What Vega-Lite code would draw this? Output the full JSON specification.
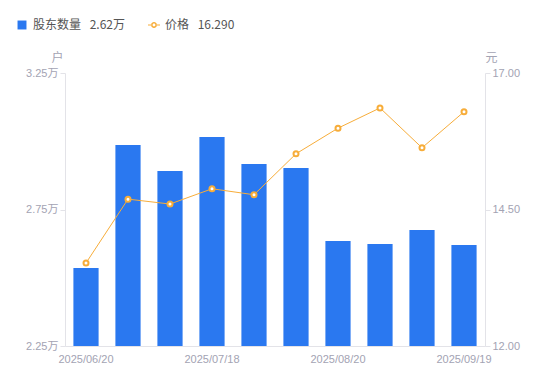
{
  "$schema": "https://vega.github.io/schema/vega-lite/v6.json",
  "width": 420,
  "height": 273,
  "autosize": {"type": "none"},
  "padding": {"left": 65, "top": 73, "right": 65, "bottom": 35},
  "background": "white",
  "config": {
    "view": {"stroke": null},
    "font": "Liberation Sans, Noto Sans CJK SC, sans-serif",
    "axis": {
      "labelFont": "Liberation Sans, Noto Sans CJK SC, sans-serif",
      "labelColor": "#a3a3b3",
      "labelFontSize": 11,
      "domainColor": "#e3e3e8",
      "tickColor": "#e3e3e8",
      "grid": false,
      "titleFont": "Noto Sans CJK SC",
      "titleFontWeight": "normal",
      "titleColor": "#a3a3b3",
      "titleFontSize": 12
    }
  },
  "data": {
    "values": [
      {"date": "2025/06/20", "holders": 2.536, "price": 13.52},
      {"date": "2025/06/30", "holders": 2.986, "price": 14.69},
      {"date": "2025/07/10", "holders": 2.891, "price": 14.60},
      {"date": "2025/07/18", "holders": 3.016, "price": 14.88},
      {"date": "2025/07/31", "holders": 2.917, "price": 14.77},
      {"date": "2025/08/10", "holders": 2.902, "price": 15.52},
      {"date": "2025/08/20", "holders": 2.635, "price": 15.99},
      {"date": "2025/08/29", "holders": 2.624, "price": 16.36},
      {"date": "2025/09/10", "holders": 2.675, "price": 15.63},
      {"date": "2025/09/19", "holders": 2.62, "price": 16.29}
    ]
  },
  "encoding": {
    "x": {
      "field": "date",
      "type": "ordinal",
      "scale": {"paddingInner": 0.4, "paddingOuter": 0.2},
      "axis": {
        "title": null,
        "labelAngle": 0,
        "ticks": false,
        "labelPadding": 7,
        "values": ["2025/06/20", "2025/07/18", "2025/08/20", "2025/09/19"]
      }
    }
  },
  "layer": [
    {
      "mark": {"type": "bar", "color": "#2a78f0", "clip": true},
      "encoding": {
        "y": {
          "field": "holders",
          "type": "quantitative",
          "scale": {"domain": [2.25, 3.25], "zero": false, "nice": false},
          "axis": {
            "title": "户",
            "titleAngle": 0,
            "titleX": -8,
            "titleY": -16,
            "titleAlign": "center",
            "titleBaseline": "middle",
            "values": [2.25, 2.75, 3.25],
            "labelExpr": "format(datum.value, '.2f') + '万'",
            "tickSize": 5
          }
        },
        "color": {
          "datum": "股东数量",
          "scale": {"domain": ["股东数量", "价格"], "range": ["#2a78f0", "#f7ad3a"]},
          "legend": {
            "orient": "none",
            "direction": "horizontal",
            "legendX": -49,
            "legendY": -54,
            "title": null,
            "labelFont": "Noto Sans CJK SC",
            "labelFontSize": 12,
            "labelColor": "#555",
            "labelOffset": 5,
            "columnPadding": 22,
            "symbolStrokeWidth": 0,
            "labelExpr": "datum.value == '股东数量' ? '股东数量\u2002 2.62万' : '价格\u2002 16.290'",
            "encode": {
              "symbols": {
                "update": {
                  "shape": {"signal": "datum.value == '价格' ? 'M-1,-0.08L-0.45,-0.08L-0.45,0.08L-1,0.08Z M0.45,-0.08L1,-0.08L1,0.08L0.45,0.08Z M-0.5,0A0.5,0.5 0 1,0 0.5,0A0.5,0.5 0 1,0 -0.5,0Z M-0.24,0A0.24,0.24 0 1,1 0.24,0A0.24,0.24 0 1,1 -0.24,0Z' : 'square'"},
                  "size": {"signal": "datum.value == '价格' ? 144 : 80"}
                }
              }
            }
          }
        }
      }
    },
    {
      "mark": {
        "type": "line",
        "strokeWidth": 1,
        "point": {"filled": false, "fill": "white", "size": 25, "strokeWidth": 2, "stroke": "#f7ad3a"}
      },
      "encoding": {
        "y": {
          "field": "price",
          "type": "quantitative",
          "scale": {"domain": [12, 17], "zero": false, "nice": false},
          "axis": {
            "orient": "right",
            "title": "元",
            "titleAngle": 0,
            "titleX": 6,
            "titleY": -16,
            "titleAlign": "center",
            "titleBaseline": "middle",
            "values": [12, 14.5, 17],
            "format": ".2f",
            "tickSize": 5
          }
        },
        "color": {"datum": "价格"}
      }
    }
  ],
  "resolve": {"scale": {"y": "independent"}}
}
